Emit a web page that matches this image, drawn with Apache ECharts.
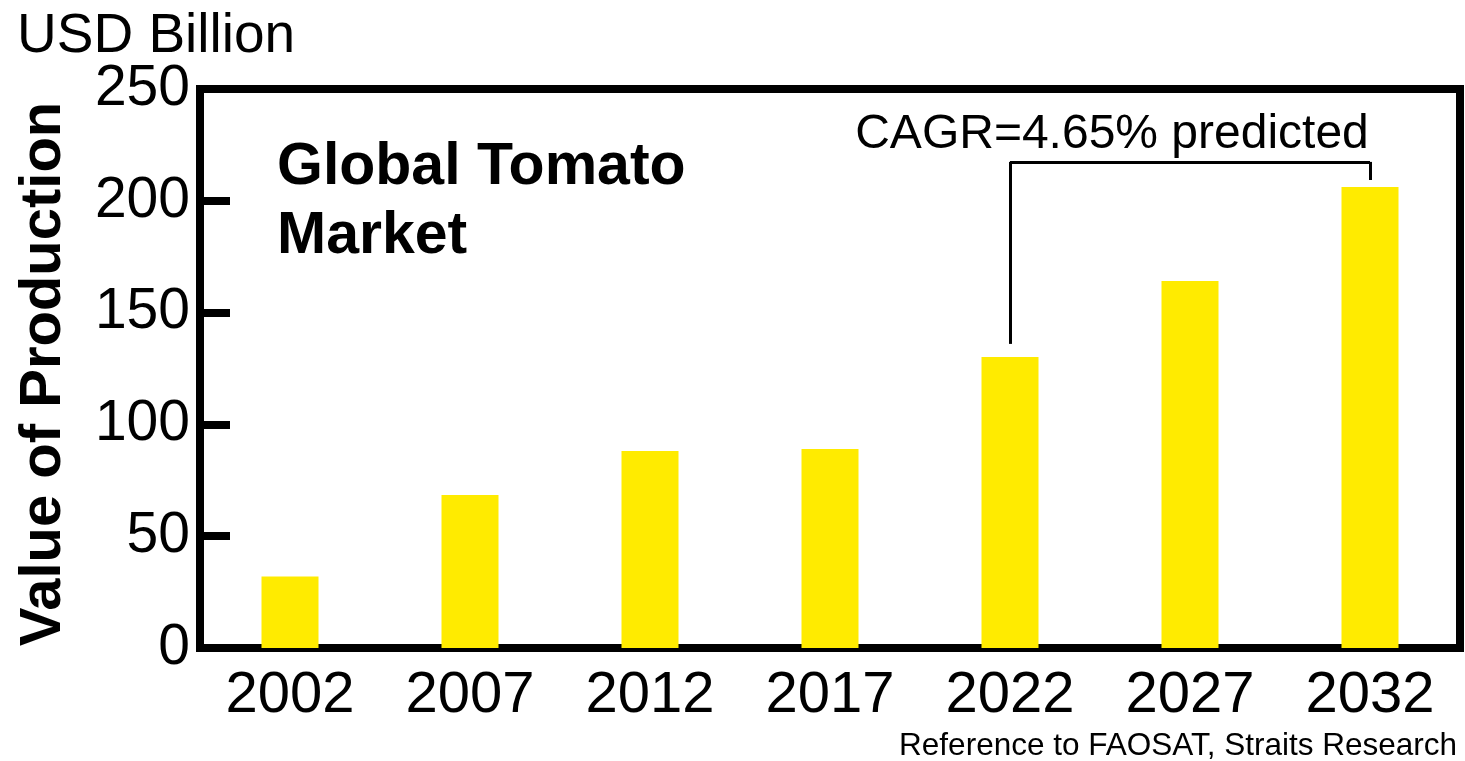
<!DOCTYPE html>
<html>
<head>
<meta charset="utf-8">
<style>
  html, body { margin: 0; padding: 0; background: #fff; }
  #chart { width: 1465px; height: 761px; }
</style>
<script src="https://cdn.jsdelivr.net/npm/echarts@6/dist/echarts.min.js"></script>
</head>
<body>
<div id="chart"></div>
<script>
// ---- data ----
const years = ['2002', '2007', '2012', '2017', '2022', '2027', '2032'];
const values = [32, 68.4, 88.1, 89, 130.1, 164.1, 206.2];
const yTicks = { min: 0, max: 250, interval: 50 };
// CAGR bracket: [start category, end category], bottom heights and bracket top
const bracketCats = ['2022', '2032'];
const bracketLevels = { leftBottom: 136, rightBottom: 209.3, top: 217.4 };
const titleText = 'Global Tomato\nMarket';
const unitText = 'USD Billion';
const yAxisTitle = 'Value of Production';
const cagrText = 'CAGR=4.65% predicted';
const sourceText = 'Reference to FAOSAT, Straits Research';

const FONT = '"Liberation Sans", Arial, Helvetica, sans-serif';
const chart = echarts.init(document.getElementById('chart'), null, { renderer: 'canvas' });

const option = {
  animation: false,
  backgroundColor: '#fff',
  textStyle: { fontFamily: FONT },
  grid: {
    left: 200, top: 89, width: 1260, height: 559,
    show: true, borderColor: '#000', borderWidth: 8, backgroundColor: 'transparent',
    containLabel: false, outerBoundsMode: 'none'
  },
  xAxis: {
    type: 'category',
    data: years,
    axisLine: { show: false },
    axisTick: { show: false },
    axisLabel: { color: '#000', fontSize: 58, fontFamily: FONT, margin: 19 },
    splitLine: { show: false }
  },
  yAxis: {
    type: 'value',
    min: yTicks.min, max: yTicks.max, interval: yTicks.interval,
    axisLine: { show: false },
    axisTick: { show: true, inside: true, length: 30, lineStyle: { color: '#000', width: 8 } },
    axisLabel: { color: '#000', fontSize: 57, fontFamily: FONT, margin: 10, padding: [10, 0, 0, 0] },
    splitLine: { show: false }
  },
  series: [{
    type: 'bar',
    data: values,
    barWidth: 57,
    itemStyle: { color: '#ffeb00' },
    silent: true,
    markLine: {
      silent: true,
      symbol: 'none',
      label: { show: false },
      lineStyle: { color: '#000', width: 3, type: 'solid' },
      emphasis: { disabled: true },
      data: [
        [{ coord: [bracketCats[0], bracketLevels.leftBottom] }, { coord: [bracketCats[0], bracketLevels.top] }],
        [{ coord: [bracketCats[0], bracketLevels.top] }, { coord: [bracketCats[1], bracketLevels.top] }],
        [{ coord: [bracketCats[1], bracketLevels.top] }, { coord: [bracketCats[1], bracketLevels.rightBottom] }]
      ]
    }
  }],
  graphic: [
    { type: 'text', left: 17, top: 9, style: { text: unitText, font: '55px ' + FONT, fill: '#000' } },
    { type: 'text', x: 44, y: 374, rotation: Math.PI / 2,
      style: { text: yAxisTitle, font: 'bold 58px ' + FONT, fill: '#000', align: 'center', verticalAlign: 'middle' } },
    { type: 'text', x: 277, y: 133,
      style: { text: titleText, font: 'bold 59px ' + FONT, fill: '#000', lineHeight: 69, align: 'left', verticalAlign: 'top' } },
    { type: 'text', x: 1112, y: 135,
      style: { text: cagrText, font: '48px ' + FONT, fill: '#000', align: 'center', verticalAlign: 'middle' } },
    { type: 'text', x: 1457, y: 746,
      style: { text: sourceText, font: '31.5px ' + FONT, fill: '#000', align: 'right', verticalAlign: 'middle' } }
  ]
};
chart.setOption(option);
</script>
</body>
</html>
